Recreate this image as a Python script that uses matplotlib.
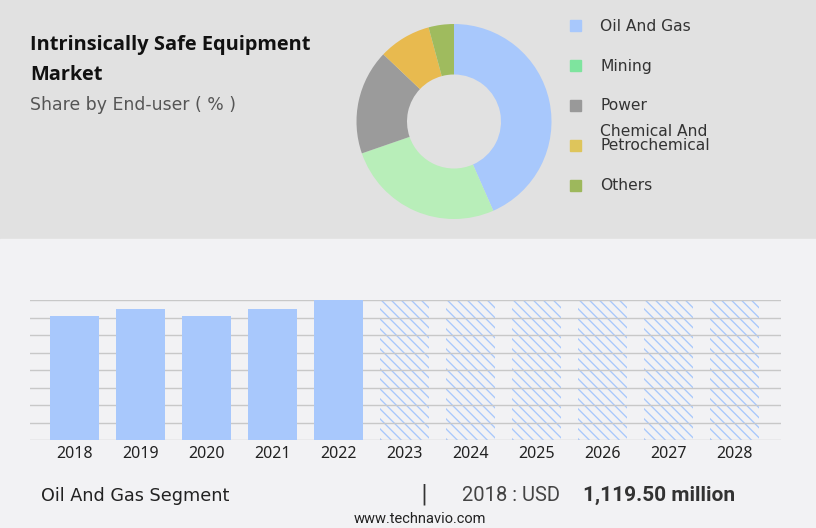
import matplotlib
matplotlib.use("Agg")
import matplotlib.pyplot as plt
from matplotlib.patches import Rectangle
from matplotlib.lines import Line2D
from matplotlib.transforms import IdentityTransform
import numpy as np

# ---- data ----
segments = ["Oil And Gas", "Mining", "Power", "Chemical And\nPetrochemical", "Others"]
shares = [43.4, 26.3, 17.4, 8.7, 4.2]
pie_colors = ["#a8c8fc", "#b8eeb9", "#9b9b9b", "#e8ba4f", "#9fbb5e"]
legend_colors = ["#a8c8fc", "#7ee49e", "#999999", "#dec55b", "#9db85c"]

hist_years = ["2018", "2019", "2020", "2021", "2022"]
hist_values = [1119.5, 1183, 1119.5, 1183, 1264]
fc_years = ["2023", "2024", "2025", "2026", "2027", "2028"]
fc_values = [1264, 1264, 1264, 1264, 1264, 1264]

W, H = 816, 528
fig = plt.figure(figsize=(W / 100, H / 100), dpi=100)

# background / overlay axes in pixel coords
bg = fig.add_axes([0, 0, 1, 1])
bg.set_xlim(0, W)
bg.set_ylim(H, 0)
bg.axis("off")
bg.add_patch(Rectangle((0, 0), W, 239, color="#e1e1e1", zorder=0))
bg.add_patch(Rectangle((0, 239), W, H - 239, color="#f2f2f4", zorder=0))

# titles
bg.text(30, 50, "Intrinsically Safe Equipment", fontsize=14.4, fontweight="bold",
        family="Open Sans", color="#111111", va="baseline")
bg.text(30, 80, "Market", fontsize=14.4, fontweight="bold",
        family="Open Sans", color="#111111", va="baseline")
bg.text(30, 110, "Share by End-user ( % )", fontsize=12.4, family="DejaVu Sans",
        color="#555555", va="baseline")

# legend
leg_centers = [25.5, 65, 105, 145, 185]
for lab, col, cy in zip(segments, legend_colors, leg_centers):
    bg.add_patch(Rectangle((570, cy - 5.5), 11, 11, color=col, zorder=2))
    bg.text(600, cy + 5.5, lab, fontsize=11.2, family="DejaVu Sans",
            color="#333333", va="baseline", linespacing=0.95)

# donut
cx, cy, R = 454, 121.5, 100
pax = fig.add_axes([(cx - R) / W, (H - cy - R) / H, 2 * R / W, 2 * R / H])
pax.pie(shares, colors=pie_colors, startangle=90, counterclock=False,
        radius=0.975, wedgeprops=dict(width=0.505, linewidth=0))
pax.set_xlim(-1, 1)
pax.set_ylim(-1, 1)
pax.set_aspect("equal")
pax.axis("off")

# bar chart
x0, x1, ytop, ybot = 30, 781, 300, 440
bax = fig.add_axes([x0 / W, (H - ybot) / H, (x1 - x0) / W, (ybot - ytop) / H])
bax.set_facecolor("none")
years = hist_years + fc_years
xh = np.arange(len(hist_years))
xf = np.arange(len(hist_years), len(years))
bw = 0.742
ymax = max(hist_values)
bax.bar(xh, hist_values, width=bw, color="#a8c8fc", zorder=3)
fc_bars = bax.bar(xf, fc_values, width=bw, facecolor="none", linewidth=0, zorder=1)
bax.set_xlim(-0.674, 10.70)
bax.set_ylim(0, ymax)
bax.set_yticks(np.linspace(0, ymax, 9))
bax.set_axisbelow(False)
bax.yaxis.grid(True, color="#c8c8c8", linewidth=1.0)
bax.tick_params(axis="y", length=0, labelleft=False)
bax.set_xticks(np.arange(len(years)))
bax.set_xticklabels(years, fontsize=11.5, family="Noto Sans", color="#222222")
bax.tick_params(axis="x", length=0, pad=4)
for s in bax.spines.values():
    s.set_visible(False)

# diagonal hatching of forecast bars (style), clipped to each bar
fig.canvas.draw()
spacing = 10.0
for p in fc_bars.patches:
    bb = p.get_window_extent()
    h = bb.height
    starts = np.arange(bb.x0 - h, bb.x1 + spacing, spacing)
    for sx in starts:
        ln = Line2D([sx, sx + h + 2], [bb.y1 + 1, bb.y0 - 1 - 0], color="#a8c8fc",
                    linewidth=0.95, transform=IdentityTransform(), zorder=1.5)
        bax.add_line(ln)
        ln.set_clip_path(p)

# footer
bg.text(41, 501, "Oil And Gas Segment", fontsize=12.7, family="DejaVu Sans",
        color="#222222", va="baseline")
bg.text(424, 494, "|", fontsize=15, family="DejaVu Sans", color="#333333",
        va="center", ha="center")
bg.text(462, 501, "2018 : USD", fontsize=14.5, family="Roboto",
        color="#444444", va="baseline")
bg.text(735, 501, "1,119.50 million", fontsize=15, family="Roboto",
        fontweight="bold", color="#333333", va="baseline", ha="right")
bg.text(420, 523, "www.technavio.com", fontsize=10.5, family="Roboto",
        color="#222222", va="baseline", ha="center")

fig.savefig("out.png", dpi=100)
